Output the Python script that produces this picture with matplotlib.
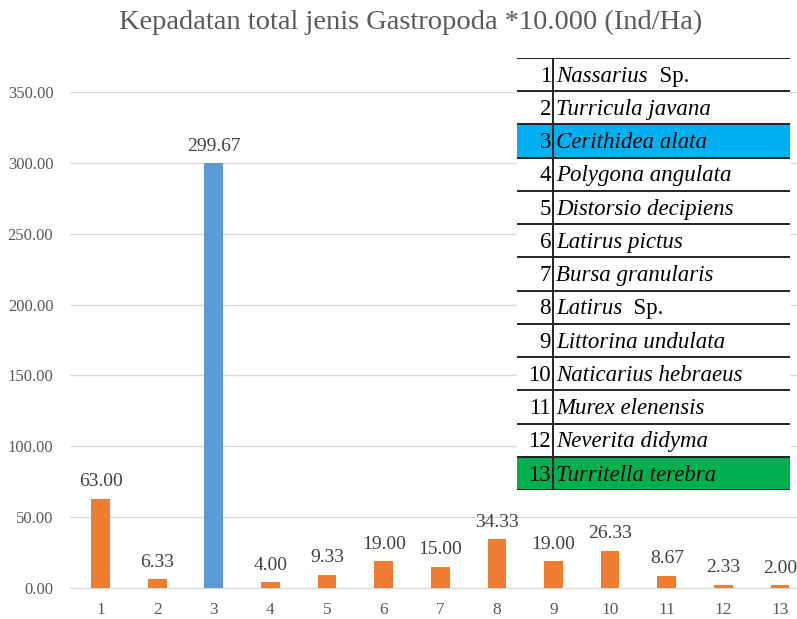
import matplotlib.pyplot as plt
from matplotlib.patches import Rectangle

# data
categories = [str(i) for i in range(1, 14)]
values = [63.00, 6.33, 299.67, 4.00, 9.33, 19.00, 15.00, 34.33, 19.00, 26.33, 8.67, 2.33, 2.00]
species = ['Nassarius', 'Turricula javana', 'Cerithidea alata', 'Polygona angulata',
           'Distorsio decipiens', 'Latirus pictus', 'Bursa granularis', 'Latirus',
           'Littorina undulata', 'Naticarius hebraeus', 'Murex elenensis',
           'Neverita didyma', 'Turritella terebra']
suffix = {0: 'Sp.', 7: 'Sp.'}
yticks = [0, 50, 100, 150, 200, 250, 300, 350]

ORANGE = '#ed7d31'
BLUE = '#5b9bd5'
GRID = '#d9d9d9'
TXT = '#595959'
SERIF = 'Liberation Serif'

plt.rcParams['font.family'] = SERIF

fig = plt.figure(figsize=(7.97, 6.19), dpi=100)
W, H = 797, 619
ax = fig.add_axes([70 / W, 1 - 588 / H, (W - 70) / W, (588 - 92) / H])

x = list(range(1, 14))
colors = [BLUE if i == 2 else ORANGE for i in range(13)]
ax.bar(x, values, width=0.33, color=colors, zorder=3)
for xi, v in zip(x, values):
    ax.text(xi, v + 6, f'{v:.2f}', ha='center', va='bottom', fontsize=14,
            color='#404040', clip_on=False)

ax.set_xlim(0.46, 13.3)
ax.set_ylim(0, 350)
ax.set_yticks(yticks)
ax.set_yticklabels([f'{t:.2f}' for t in yticks])
ax.set_xticks(x)
ax.set_xticklabels(categories)
ax.tick_params(length=0, labelsize=12.5, colors=TXT, pad=10)
ax.tick_params(axis='y', labelsize=12, pad=12)
ax.grid(axis='y', color=GRID, lw=1, zorder=0)
for name, sp in ax.spines.items():
    sp.set_visible(name == 'bottom')
ax.spines['bottom'].set_color(GRID)

fig.text(411 / W, 1 - 22 / H, 'Kepadatan total jenis Gastropoda *10.000 (Ind/Ha)',
         ha='center', va='center', fontsize=20.5, color=TXT)

# species table
tx0, tx1, ty0, ty1 = 517, 790, 58, 490
tab = fig.add_axes([tx0 / W, 1 - ty1 / H, (tx1 - tx0) / W, (ty1 - ty0) / H])
tab.set_xlim(0, tx1 - tx0)
tab.set_ylim(13, 0)
tab.axis('off')
div = 553 - tx0
fills = {2: '#00b0f0', 12: '#00b050'}
for i, name in enumerate(species):
    tab.add_patch(Rectangle((0, i), tx1 - tx0, 1, facecolor=fills.get(i, 'white'),
                            edgecolor='none', zorder=1))
    tab.text(div - 2, i + 0.55, str(i + 1), ha='right', va='center', fontsize=16.5,
             color='black', zorder=3)
    t = tab.text(div + 3, i + 0.55, name, ha='left', va='center', fontsize=16.5,
                 style='italic', color='black', zorder=3)
    if i in suffix:
        tab.annotate('  ' + suffix[i], xy=(1, 0.5), xycoords=t, ha='left', va='center',
                     fontsize=16.5, color='black', zorder=3)
for i in range(14):
    tab.plot([0, tx1 - tx0], [i, i], color='#222222', lw=1.4, zorder=4,
             solid_capstyle='butt')
tab.plot([div, div], [0, 13], color='#222222', lw=1.4, zorder=4)

fig.savefig('out.png', dpi=100, facecolor='white')
